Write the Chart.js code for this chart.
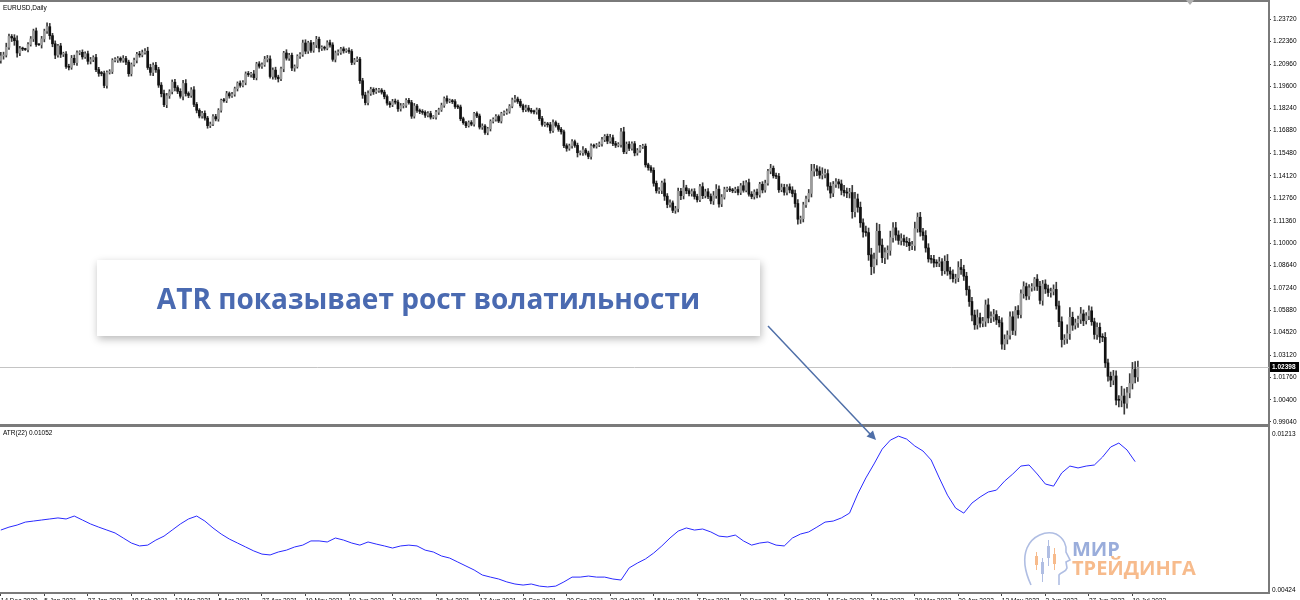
<!DOCTYPE html>
<html>
<head>
<meta charset="utf-8">
<title>EURUSD Daily + ATR(22)</title>
<script src="https://cdn.jsdelivr.net/npm/chart.js@4.4.1/dist/chart.umd.min.js"></script>
<style>
  body { margin: 0; width: 1300px; height: 600px; overflow: hidden; background: #fff; position: relative; font-family: "Liberation Sans", Arial, sans-serif; }
  canvas { position: absolute; left: 0; }
  #priceCanvas { top: 0; }
  #atrCanvas { top: 427px; }
  .lbl { position: absolute; font-size: 6.5px; line-height: 8px; color: #000; white-space: nowrap; }
  .callout { position: absolute; left: 97px; top: 260px; width: 663px; height: 76px; background: #fff;
    box-shadow: 1px 3px 8px rgba(0,0,0,0.28); display: flex; align-items: center; justify-content: center;
    font-family: "Open Sans", sans-serif; font-weight: 700; font-size: 28px; color: #4a6ab1; }
  .logo1, .logo2 { position: absolute; font-family: "Open Sans", sans-serif; font-weight: 700; font-size: 20px; line-height: 20px; }
  .logo1 { left: 1072px; top: 539px; color: #9aaddb; }
  .logo2 { left: 1072px; top: 558px; color: #f7bb8c; }
  svg { position: absolute; left: 0; top: 0; pointer-events: none; }
</style>
</head>
<body>
<canvas id="priceCanvas" width="1300" height="427"></canvas>
<canvas id="atrCanvas" width="1300" height="176"></canvas>
<div class="lbl" style="left:3px;top:4px">EURUSD,Daily</div>
<div class="lbl" style="left:3px;top:429px">ATR(22) 0.01052</div>
<div class="callout">ATR показывает рост волатильности</div>
<div class="logo1">МИР</div>
<div class="logo2">ТРЕЙДИНГА</div>
<svg width="1300" height="600">
  <polygon points="1186,0 1194,0 1190,5" fill="#b0b0b0"/>
  <line x1="768" y1="326" x2="871" y2="435" stroke="#4f6fa8" stroke-width="1.5"/>
  <polygon points="876,440 866.5,436.5 873,430.5" fill="#4f6fa8"/>
  <g transform="translate(1022,530)" fill="none" stroke="#b0bee3" stroke-width="1.6">
    <path d="M9 55 C3 42 1 28 5 18 C10 6 24 0 34 4 C42 8 45 16 44 22 L48 30 L44 32 L45 38 C44 42 39 42 37 45 L37 55"/>
  </g>
  <g transform="translate(1022,530)">
    <rect x="13" y="26" width="3" height="9" fill="#f7bb8c"/><line x1="14.5" y1="22" x2="14.5" y2="40" stroke="#f7bb8c"/>
    <rect x="19" y="32" width="3" height="12" fill="#b0bee3"/><line x1="20.5" y1="28" x2="20.5" y2="52" stroke="#b0bee3"/>
    <rect x="25" y="16" width="3" height="12" fill="#b0bee3"/><line x1="26.5" y1="10" x2="26.5" y2="36" stroke="#b0bee3"/>
    <rect x="31" y="24" width="3" height="10" fill="#f7bb8c"/><line x1="32.5" y1="18" x2="32.5" y2="40" stroke="#f7bb8c"/>
  </g>
</svg>
<script>
// EURUSD daily closes, 14 Dec 2020 .. 21 Jul 2022 (two weeks per row)
const firstOpen = 1.2118;
const closes = [
  1.2146,1.2151,1.2199,1.2265,1.2256, 1.2239,1.2164,1.2190,1.2188,1.2185,
  1.2216,1.2250,1.2299,1.2216,1.2214, 1.2250,1.2298,1.2325,1.2270,1.2220,
  1.2151,1.2207,1.2156,1.2157,1.2081, 1.2076,1.2131,1.2105,1.2165,1.2168,
  1.2140,1.2159,1.2113,1.2123,1.2136, 1.2062,1.2039,1.2038,1.1965,1.2045,
  1.2050,1.2119,1.2120,1.2131,1.2119, 1.2130,1.2108,1.2037,1.2093,1.2119,
  1.2156,1.2152,1.2167,1.2175,1.2075, 1.2045,1.2089,1.2061,1.1967,1.1915,
  1.1847,1.1902,1.1927,1.1985,1.1952, 1.1929,1.1899,1.1977,1.1916,1.1904,
  1.1938,1.1849,1.1813,1.1778,1.1794, 1.1765,1.1719,1.1728,1.1774,1.1760,
  1.1813,1.1874,1.1872,1.1915,1.1901, 1.1911,1.1945,1.1979,1.1966,1.1983,
  1.2036,1.2032,1.2035,1.2013,1.2097, 1.2083,1.2092,1.2125,1.2127,1.2020,
  1.2059,1.2016,1.2006,1.2067,1.2164, 1.2132,1.2150,1.2072,1.2081,1.2144,
  1.2155,1.2225,1.2175,1.2226,1.2180, 1.2213,1.2248,1.2193,1.2196,1.2193,
  1.2227,1.2213,1.2125,1.2164,1.2167, 1.2189,1.2177,1.2179,1.2173,1.2106,
  1.2121,1.2126,1.1994,1.1906,1.1860, 1.1916,1.1941,1.1926,1.1934,1.1936,
  1.1924,1.1897,1.1857,1.1847,1.1866, 1.1863,1.1822,1.1841,1.1843,1.1874,
  1.1860,1.1777,1.1839,1.1812,1.1806, 1.1800,1.1783,1.1793,1.1771,1.1771,
  1.1801,1.1816,1.1843,1.1885,1.1869, 1.1870,1.1866,1.1836,1.1833,1.1761,
  1.1737,1.1719,1.1738,1.1728,1.1793, 1.1778,1.1710,1.1716,1.1677,1.1700,
  1.1745,1.1758,1.1775,1.1747,1.1793, 1.1798,1.1807,1.1838,1.1876,1.1882,
  1.1867,1.1841,1.1817,1.1827,1.1813, 1.1805,1.1803,1.1815,1.1762,1.1726,
  1.1727,1.1724,1.1689,1.1738,1.1720, 1.1696,1.1681,1.1596,1.1580,1.1595,
  1.1621,1.1598,1.1553,1.1553,1.1570, 1.1551,1.1530,1.1594,1.1593,1.1600,
  1.1607,1.1633,1.1653,1.1624,1.1645, 1.1609,1.1599,1.1603,1.1681,1.1559,
  1.1605,1.1580,1.1608,1.1552,1.1567, 1.1589,1.1593,1.1479,1.1462,1.1445,
  1.1366,1.1320,1.1322,1.1368,1.1287, 1.1236,1.1246,1.1200,1.1211,1.1317,
  1.1290,1.1338,1.1320,1.1303,1.1315, 1.1285,1.1265,1.1345,1.1290,1.1314,
  1.1285,1.1258,1.1290,1.1330,1.1239, 1.1281,1.1328,1.1331,1.1325,1.1320,
  1.1328,1.1310,1.1351,1.1323,1.1370, 1.1299,1.1285,1.1312,1.1295,1.1360,
  1.1325,1.1367,1.1440,1.1458,1.1412, 1.1408,1.1326,1.1340,1.1311,1.1344,
  1.1325,1.1303,1.1242,1.1146,1.1149, 1.1234,1.1270,1.1304,1.1440,1.1454,
  1.1441,1.1416,1.1421,1.1425,1.1348, 1.1306,1.1359,1.1375,1.1362,1.1323,
  1.1309,1.1306,1.1309,1.1192,1.1270, 1.1219,1.1124,1.1068,1.1064,1.0928,
  1.0856,1.0902,1.1072,1.0987,1.0910, 1.0941,1.0955,1.1033,1.1093,1.1049,
  1.1016,1.1027,1.1008,1.1004,1.0984, 1.0985,1.1088,1.1158,1.1068,1.1046,
  1.0970,1.0903,1.0900,1.0878,1.0877, 1.0885,1.0831,1.0888,1.0828,1.0810,
  1.0782,1.0787,1.0850,1.0838,1.0797, 1.0714,1.0642,1.0559,1.0499,1.0543,
  1.0509,1.0521,1.0621,1.0541,1.0550, 1.0562,1.0529,1.0512,1.0381,1.0410,
  1.0436,1.0548,1.0465,1.0587,1.0562, 1.0690,1.0733,1.0676,1.0725,1.0734,
  1.0779,1.0735,1.0649,1.0749,1.0719, 1.0697,1.0704,1.0716,1.0615,1.0518,
  1.0409,1.0413,1.0445,1.0545,1.0497, 1.0511,1.0533,1.0566,1.0524,1.0554,
  1.0585,1.0518,1.0440,1.0484,1.0425, 1.0422,1.0266,1.0184,1.0160,1.0186,
  1.0038,1.0037,1.0063,1.0019,1.0082, 1.0140,1.0226,1.0180,1.02398
];
// wick lengths in pips above / below the candle body
const upWick = [
  22,18,25,15,12, 20,30,14,10,5,   12,15,11,18,4, 16,12,24,20,14,
  18,10,16,12,15, 14,18,20,12,10,  15,12,16,14,11, 20,14,12,15,10,
  12,10,15,11,9, 18,14,12,10,13,   12,18,15,16,24, 20,14,18,15,16,
  22,15,12,14,18, 12,16,20,24,10,  14,20,12,10,12, 15,11,13,12,14,
  10,8,12,14,10, 12,10,8,14,12,    12,15,10,22,10, 14,12,18,22,20,
  14,18,12,10,10, 20,12,14,10,9,   12,18,20,10,15, 16,18,14,12,10,
  12,16,14,12,16, 10,12,11,17,12,  10,14,12,15,18, 16,13,10,14,12,
  10,12,11,10,14, 16,12,14,12,10,  12,14,16,10,9, 11,10,12,14,10,
  12,10,14,10,16, 12,10,12,11,12,  10,9,10,12,8, 10,12,14,10,9,
  10,9,12,10,8, 11,14,10,12,22,    12,14,10,18,16, 12,9,12,10,14,
  14,12,15,16,10, 14,12,10,12,11,  12,10,14,11,20, 10,12,14,12,10,
  12,15,11,14,20, 16,14,12,22,28,  14,16,12,14,12, 10,12,14,10,12,
  16,14,18,12,24, 16,18,12,14,20,  18,46,16,14,16, 18,14,15,24,16,
  20,16,26,28,20, 16,14,12,14,10,  14,18,14,28,12, 22,16,14,18,12,
  16,18,12,24,14, 16,18,22,20,14,  18,20,22,24,16, 16,18,24,42,28,
  20,26,40,28,24, 22,18,20,16,24,  30,28,26,44,40, 30,32,24,36,28,
  40,36,50,42,38, 30,28,40,32,34,  26,30,22,28,24, 26,40,26,30,22,
  30,26,22,24,20, 28,20,34,42,24,  26,22,36,50,26, 24,22,26,30,48,
  28,24,30,38,28, 32,24,22,30,28,  26,30,32,24,30, 24,30,22,20,18,
  10,28,30,22,26, 24,20,28,44,30,  30,26,54,60,32, 24,20,40,24,20,
  30,24,22,28,26, 20,30,24,26,34,  32,28,60,44,34, 60,43,48,38
];
const downWick = [
  16,20,12,14,22, 28,25,16,10,6,   14,10,16,12,4, 20,18,14,22,18,
  22,12,20,14,12, 16,12,14,18,12,  14,10,18,16,12, 12,18,14,14,16,
  10,12,10,14,12, 12,15,16,14,10,  16,14,12,10,12, 18,20,16,14,20,
  12,18,16,14,20, 14,12,22,16,14,  12,14,16,12,14, 12,16,12,10,12,
  14,12,10,12,14, 10,12,14,12,10,  14,12,16,12,14, 12,14,10,16,10,
  16,14,20,12,18, 12,14,16,20,10,  14,12,16,14,12, 12,16,22,14,12,
  10,14,12,16,14, 12,14,10,12,14,  12,10,16,20,14, 14,12,16,10,12,
  12,14,12,16,12, 12,16,14,14,12,  10,14,12,12,14, 12,14,10,12,10,
  12,14,10,12,14, 10,12,12,10,12,  10,12,9,10,12, 10,12,14,12,14,
  14,10,12,10,12, 12,10,12,10,14,  12,10,14,12,10, 10,12,14,12,10,
  12,14,16,12,10, 12,14,12,18,12,  14,12,26,14,16, 12,14,16,10,12,
  10,14,12,16,12, 12,14,10,16,12,  12,14,12,18,14, 12,10,14,16,12,
  18,14,16,20,26, 20,16,14,18,20,  24,20,18,14,16, 16,14,12,18,14,
  14,18,22,16,20, 16,12,14,10,12,  12,16,14,12,10, 12,14,16,18,14,
  18,14,12,16,14, 14,16,12,18,16,  18,20,22,30,26, 20,16,18,22,30,
  28,20,24,22,24, 30,22,18,26,28,  22,28,30,40,32, 30,28,32,22,34,
  50,40,36,44,30, 36,40,30,28,32,  24,28,22,26,30, 24,30,22,26,28,
  26,20,24,26,22, 22,30,20,26,30,  22,28,24,30,26, 34,30,36,28,26,
  24,22,32,30,28, 30,28,26,31,34,  28,24,26,30,22, 20,28,24,22,20,
  24,26,22,30,28, 24,28,22,20,30,  46,30,28,36,32, 24,28,26,30,20,
  24,22,28,30,36, 26,28,30,40,28,  30,40,40,67,30, 30,34,36,28
];
// ATR(22), one reading every atrStep bars
const atrStep = 3;
const atr = [
  0.00725,0.00739,0.00749,0.00763,0.00768,0.00773,0.00778,0.00783,0.00778,0.00792,
  0.00773,0.00754,0.00739,0.00725,0.00711,0.00687,0.00663,0.00649,0.00653,0.00677,
  0.00696,0.00725,0.00754,0.00778,0.00792,0.00768,0.00735,0.00706,0.00682,0.00663,
  0.00644,0.00625,0.00610,0.00606,0.00620,0.00629,0.00644,0.00653,0.00673,0.00673,
  0.00668,0.00687,0.00677,0.00663,0.00653,0.00668,0.00658,0.00649,0.00639,0.00649,
  0.00653,0.00649,0.00629,0.00620,0.00601,0.00591,0.00572,0.00553,0.00534,0.00510,
  0.00500,0.00491,0.00477,0.00467,0.00462,0.00467,0.00457,0.00453,0.00457,0.00477,
  0.00500,0.00500,0.00505,0.00500,0.00500,0.00491,0.00486,0.00544,0.00567,0.00587,
  0.00615,0.00649,0.00687,0.00720,0.00735,0.00725,0.00730,0.00716,0.00696,0.00692,
  0.00701,0.00673,0.00653,0.00663,0.00668,0.00653,0.00649,0.00687,0.00706,0.00716,
  0.00739,0.00763,0.00768,0.00783,0.00806,0.00897,0.00974,0.01041,0.01112,0.01155,
  0.01174,0.01160,0.01127,0.01103,0.01060,0.00974,0.00892,0.00830,0.00806,0.00854,
  0.00883,0.00907,0.00916,0.00959,0.00993,0.01031,0.01036,0.00993,0.00945,0.00935,
  0.00998,0.01031,0.01022,0.01031,0.01036,0.01074,0.01122,0.01141,0.01108,0.01052
];
const lastPrice = 1.02398;
const priceTicks = [1.2372,1.2236,1.2096,1.1960,1.1824,1.1688,1.1548,1.1412,1.1276,1.1136,
  1.1000,1.0864,1.0724,1.0588,1.0452,1.0312,1.0176,1.0040,0.9904];
const dateTickBars = [0,16,32,48,64,80,96,112,128,144,160,176,192,208,224,240,256,272,288,304,320,336,352,368,384,400,416];
const dateTickText = ['14 Dec 2020','5 Jan 2021','27 Jan 2021','18 Feb 2021','12 Mar 2021','5 Apr 2021','27 Apr 2021',
  '19 May 2021','10 Jun 2021','2 Jul 2021','26 Jul 2021','17 Aug 2021','8 Sep 2021','30 Sep 2021','22 Oct 2021',
  '15 Nov 2021','7 Dec 2021','29 Dec 2021','20 Jan 2022','11 Feb 2022','7 Mar 2022','29 Mar 2022','20 Apr 2022',
  '12 May 2022','3 Jun 2022','27 Jun 2022','19 Jul 2022'];

const pip = 0.0001;
const xMin = -0.3, xMax = 466.2;
const axisFont = { family: 'Liberation Sans', size: 6.5 };

const opens = closes.map((c, i) => i ? closes[i - 1] : firstOpen);
const bodies = closes.map((c, i) => ({ x: i, y: [opens[i], c] }));
const wicks = closes.map((c, i) => ({
  x: i, y: [Math.min(opens[i], c) - downWick[i] * pip, Math.max(opens[i], c) + upWick[i] * pip]
}));
const bodyColors = closes.map((c, i) => c >= opens[i] ? '#9c9c9c' : '#111');

function noPad(s) { s.paddingTop = 0; s.paddingBottom = 0; s.paddingLeft = 0; s.paddingRight = 0; }

const priceDecor = {
  id: 'priceDecor',
  beforeDatasetsDraw(chart) {
    const { ctx, chartArea: a, scales: { y } } = chart;
    const py = Math.round(y.getPixelForValue(lastPrice)) + 0.5;
    ctx.save();
    ctx.strokeStyle = '#c4c4c4';
    ctx.lineWidth = 1;
    ctx.beginPath(); ctx.moveTo(a.left, py); ctx.lineTo(a.right, py); ctx.stroke();
    ctx.restore();
  },
  afterDraw(chart) {
    const { ctx, chartArea: a, scales: { y } } = chart;
    ctx.save();
    ctx.fillStyle = '#7a7a7a';
    ctx.fillRect(0, 0, a.right + 1, 2);
    ctx.fillRect(0, 424, a.right + 1, 3);
    const py = Math.round(y.getPixelForValue(lastPrice));
    ctx.fillStyle = '#000';
    ctx.fillRect(a.right + 1, py - 5, 29, 10);
    ctx.fillStyle = '#fff';
    ctx.font = 'bold 6.5px "Liberation Sans"';
    ctx.textBaseline = 'middle';
    ctx.fillText(lastPrice.toFixed(5), a.right + 3, py);
    ctx.restore();
  }
};

new Chart(document.getElementById('priceCanvas'), {
  type: 'bar',
  data: {
    datasets: [
      { data: wicks, backgroundColor: '#3a3a3a', barThickness: 1, grouped: false, order: 2 },
      { data: bodies, backgroundColor: bodyColors, barThickness: 2, grouped: false, minBarLength: 1, order: 1 }
    ]
  },
  options: {
    responsive: false,
    animation: false,
    layout: { padding: { top: 3, bottom: 2, left: 0, right: 0 } },
    plugins: { legend: { display: false }, tooltip: { enabled: false } },
    scales: {
      x: { type: 'linear', min: xMin, max: xMax, offset: false, display: false, afterFit: noPad },
      y: {
        position: 'right', min: 0.98856, max: 1.2470,
        afterBuildTicks: s => { s.ticks = priceTicks.map(v => ({ value: v })); },
        afterFit: s => { s.width = 31; noPad(s); },
        ticks: { font: axisFont, color: '#000', padding: 2, callback: v => v.toFixed(5) },
        grid: { drawOnChartArea: false, drawTicks: true, tickLength: 2, color: '#444' },
        border: { color: '#7a7a7a', width: 2 }
      }
    }
  },
  plugins: [priceDecor]
});

const atrDecor = {
  id: 'atrDecor',
  afterDraw(chart) {
    const { ctx, chartArea: a } = chart;
    ctx.save();
    ctx.fillStyle = '#000';
    ctx.font = '6.5px "Liberation Sans"';
    ctx.textBaseline = 'middle';
    ctx.fillText('0.01213', a.right + 3, 7);
    ctx.fillText('0.00424', a.right + 3, 163);
    ctx.restore();
  }
};

new Chart(document.getElementById('atrCanvas'), {
  type: 'line',
  data: {
    datasets: [{
      data: atr.map((v, k) => ({ x: k * atrStep, y: v })),
      borderColor: '#2a2aff', borderWidth: 1, pointRadius: 0, tension: 0, fill: false
    }]
  },
  options: {
    responsive: false,
    animation: false,
    layout: { padding: { top: 1, bottom: 0, left: 0, right: 0 } },
    plugins: { legend: { display: false }, tooltip: { enabled: false } },
    scales: {
      x: {
        type: 'linear', min: xMin, max: xMax, offset: false,
        afterBuildTicks: s => { s.ticks = dateTickBars.map(v => ({ value: v })); },
        afterFit: s => { s.height = 10; noPad(s); },
        ticks: { autoSkip: false, maxRotation: 0, align: 'start', padding: 1, font: axisFont, color: '#000',
          callback: (v, i) => dateTickText[i] },
        grid: { drawOnChartArea: false, drawTicks: true, tickLength: 3, color: '#444' },
        border: { color: '#7a7a7a', width: 2 }
      },
      y: {
        position: 'right', min: 0.00424, max: 0.01213,
        afterFit: s => { s.width = 31; noPad(s); },
        ticks: { display: false },
        grid: { drawOnChartArea: false, drawTicks: false },
        border: { color: '#7a7a7a', width: 2 }
      }
    }
  },
  plugins: [atrDecor]
});
</script>
</body>
</html>
